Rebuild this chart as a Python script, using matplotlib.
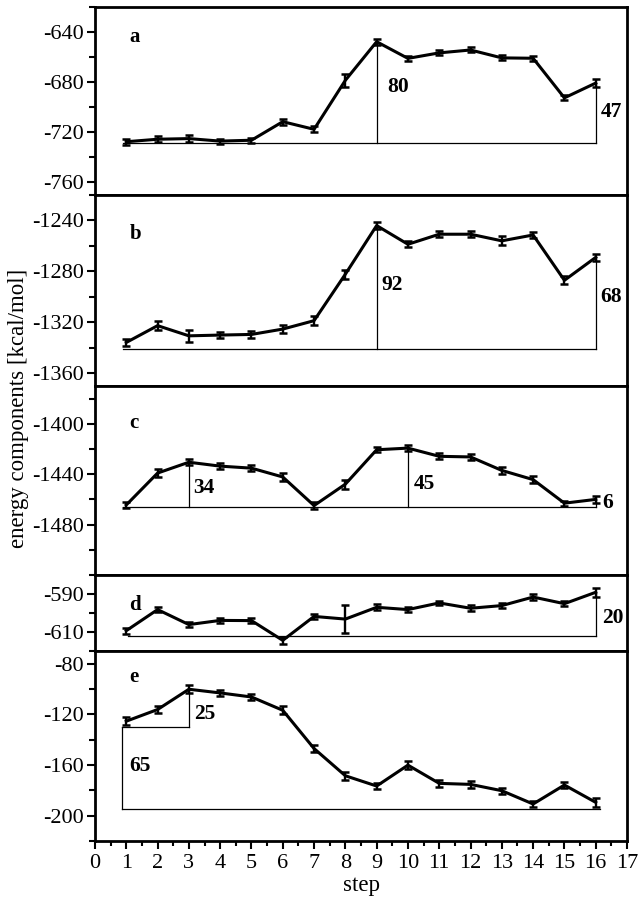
import matplotlib
matplotlib.use("Agg")
import matplotlib.pyplot as plt
import numpy as np

plt.rcParams['font.family'] = ['Liberation Serif', 'DejaVu Serif']
plt.rcParams['axes.unicode_minus'] = False

steps = list(range(1, 17))

a_vals = [-727.5, -725.5, -725, -727, -726.3, -711.5, -717.6, -678.5, -647.7, -661, -656.6, -654.3, -660.6, -660.9, -692.5, -680.7]
a_err = [2.5, 2.5, 3, 2, 2, 2.5, 2.5, 5, 2.5, 2, 2, 2, 2, 2, 2, 3]
b_vals = [-1335.8, -1322.6, -1330.6, -1330, -1329.5, -1325.3, -1318.7, -1282.2, -1244, -1258.7, -1250.8, -1250.8, -1256, -1251.4, -1287, -1269]
b_err = [3, 3.5, 4.5, 2.5, 2.5, 3, 3.5, 3.5, 3, 2.5, 2.5, 2.5, 3.5, 2.5, 3, 3]
c_vals = [-1464.4, -1439.1, -1430.5, -1433.6, -1435.2, -1442.2, -1464.9, -1447.9, -1420.6, -1419.3, -1425.8, -1426.3, -1437, -1444.3, -1463, -1460]
c_err = [2.5, 3, 2.5, 2.5, 2.5, 3.5, 3, 3.5, 2, 2.5, 2.5, 2.5, 2.5, 2.5, 2, 3]
d_vals = [-609.3, -598.2, -606.1, -603.9, -604, -614.4, -601.8, -603.2, -597, -598.2, -594.7, -597.5, -596.1, -591.6, -595.1, -589.1]
d_err = [1.5, 1.5, 1.5, 1.5, 1.5, 2, 1.5, 7.5, 1.5, 1.5, 1.2, 1.5, 1.5, 1.5, 1.2, 2.5]
e_vals = [-125.4, -116.2, -100.2, -103.1, -106.3, -116.8, -147, -168.5, -176.6, -160.1, -174.5, -175.3, -180.3, -190.8, -175.8, -189.5]
e_err = [3, 3, 3, 2.5, 2.5, 3, 3, 3, 2, 3, 2.5, 2.5, 2.5, 2, 2.5, 3.5]

panel_letters = ['a', 'b', 'c', 'd', 'e']
ylims = [(-770, -620), (-1370, -1220), (-1520, -1370), (-620, -580), (-220, -70)]
major_ticks = [[-640, -680, -720, -760], [-1240, -1280, -1320, -1360],
               [-1400, -1440, -1480], [-590, -610], [-80, -120, -160, -200]]
minor_ticks = [[-620, -660, -700, -740], [-1220, -1260, -1300, -1340],
               [-1380, -1420, -1460, -1500], [-580, -600, -620], [-100, -140, -180, -220]]
letter_y = [-644, -1251, -1399, -596, -90.5]

# panel pixel bounds (top, bottom)
bounds = [(7, 195), (195, 386), (386, 575), (575, 651), (651, 841)]
W, H = 638, 900
L, R = 95, 627

fig = plt.figure(figsize=(6.38, 9.0), dpi=100)
series = [(a_vals, a_err), (b_vals, b_err), (c_vals, c_err), (d_vals, d_err), (e_vals, e_err)]
axes = []
for i, ((vals, errs), (t, b)) in enumerate(zip(series, bounds)):
    ax = fig.add_axes([L / W, 1 - b / H, (R - L) / W, (b - t) / H])
    ax.errorbar(steps, vals, yerr=errs, color='black', lw=2.2, elinewidth=1.7,
                capsize=3.2, capthick=1.8, zorder=3)
    ax.set_xlim(0, 17)
    ax.set_ylim(*ylims[i])
    ax.set_yticks(major_ticks[i])
    ax.set_yticks(minor_ticks[i], minor=True)
    ax.tick_params(axis='y', which='major', direction='out', length=6, width=1.5, labelsize=16, pad=2)
    ax.tick_params(axis='y', which='minor', direction='out', length=4, width=1.5)
    for s in ax.spines.values():
        s.set_linewidth(2)
    ax.text(1.1, letter_y[i], panel_letters[i], fontsize=15, fontweight='bold', va='center', ha='left')
    if i < 4:
        ax.set_xticks([])
    axes.append(ax)

ax_e = axes[4]
ax_e.set_xticks(range(0, 18))
ax_e.set_xticks(np.arange(0.5, 17, 0.5), minor=True)
ax_e.tick_params(axis='x', which='major', direction='out', length=6, width=1.5, labelsize=16, pad=3)
ax_e.tick_params(axis='x', which='minor', direction='out', length=3.5, width=1.5)
ax_e.set_xlabel('step', fontsize=16.5, labelpad=2)

fig.text(19 / W, 1 - 408 / H, 'energy components [kcal/mol]', rotation=90,
         fontsize=16.5, ha='center', va='center')

lw_ann = 0.9
fs_ann = 15.5
# panel a annotations
a_base = -728.7
ax = axes[0]
ax.plot([0.9, 16], [a_base, a_base], color='black', lw=lw_ann)
ax.plot([9, 9], [a_base, a_vals[8]], color='black', lw=lw_ann)
ax.plot([16, 16], [a_base, a_vals[15]], color='black', lw=lw_ann)
ax.text(9.35, -684, '80', fontsize=fs_ann, fontweight='bold', va='center')
ax.text(16.15, -704, '47', fontsize=fs_ann, fontweight='bold', va='center')

# panel b
b_base = -1340.6
ax = axes[1]
ax.plot([0.9, 16], [b_base, b_base], color='black', lw=lw_ann)
ax.plot([9, 9], [b_base, b_vals[8]], color='black', lw=lw_ann)
ax.plot([16, 16], [b_base, b_vals[15]], color='black', lw=lw_ann)
ax.text(9.15, -1291, '92', fontsize=fs_ann, fontweight='bold', va='center')
ax.text(16.15, -1300, '68', fontsize=fs_ann, fontweight='bold', va='center')

# panel c
c_base = -1466.2
ax = axes[2]
ax.plot([0.9, 16], [c_base, c_base], color='black', lw=lw_ann)
ax.plot([3, 3], [c_base, c_vals[2]], color='black', lw=lw_ann)
ax.plot([10, 10], [c_base, c_vals[9]], color='black', lw=lw_ann)
ax.plot([16, 16], [c_base, c_vals[15]], color='black', lw=lw_ann)
ax.text(3.15, -1451, '34', fontsize=fs_ann, fontweight='semibold', va='center')
ax.text(10.18, -1447.5, '45', fontsize=fs_ann, fontweight='semibold', va='center')
ax.text(16.2, -1463, '6', fontsize=fs_ann, fontweight='bold', va='center')

# panel d
d_base = -612.3
ax = axes[3]
ax.plot([1.05, 16], [d_base, d_base], color='black', lw=lw_ann)
ax.plot([16, 16], [d_base, d_vals[15]], color='black', lw=lw_ann)
ax.text(16.2, -602.6, '20', fontsize=fs_ann, fontweight='bold', va='center')

# panel e
e_mid = -129.9
e_base = -195
ax = axes[4]
ax.plot([0.87, 3], [e_mid, e_mid], color='black', lw=lw_ann)
ax.plot([3, 3], [e_mid, e_vals[2]], color='black', lw=lw_ann)
ax.plot([0.87, 0.87], [e_mid, e_base], color='black', lw=lw_ann)
ax.plot([0.87, 16.15], [e_base, e_base], color='black', lw=lw_ann)
ax.text(3.17, -120, '25', fontsize=fs_ann, fontweight='bold', va='center')
ax.text(1.1, -160.6, '65', fontsize=fs_ann, fontweight='bold', va='center')

fig.savefig('out.png', dpi=100)
